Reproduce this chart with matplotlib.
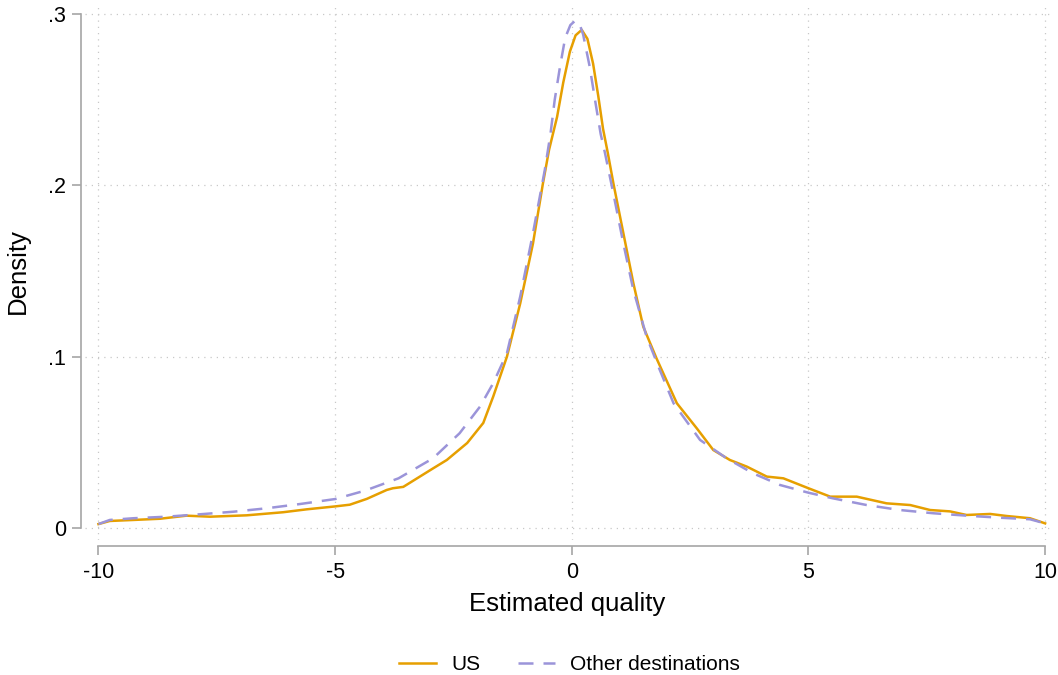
import matplotlib
matplotlib.use("Agg")
import matplotlib.pyplot as plt

plt.rcParams['font.family'] = ['Liberation Sans', 'DejaVu Sans']

# density estimates
us_x = [-10, -9.76, -9.26, -8.70, -8.14, -7.64, -6.87, -6.10, -5.60, -5.0, -4.69,
        -4.33, -3.91, -3.78, -3.56, -2.93, -2.64, -2.21, -1.87, -1.66, -1.37, -1.09, -0.82,
        -0.61, -0.48, -0.31, -0.18, -0.04, 0.08, 0.21, 0.33, 0.45, 0.56, 0.66, 0.76, 0.88, 1.09,
        1.30, 1.51, 1.79, 2.22, 2.64, 2.99, 3.34, 3.70, 4.12, 4.47, 5.0, 5.46, 6.02, 6.65,
        7.15, 7.57, 7.99, 8.34, 8.84, 9.19, 9.68, 10]
us_y = [0.0023, 0.0041, 0.0047, 0.0054, 0.0072, 0.0066, 0.0074, 0.0092, 0.0109, 0.0126, 0.0136,
        0.0170, 0.0222, 0.0232, 0.0240, 0.0348, 0.0397, 0.0496, 0.0613, 0.0767, 0.100, 0.131, 0.166,
        0.201, 0.2207, 0.240, 0.260, 0.278, 0.2875, 0.2907, 0.2855, 0.271, 0.252, 0.233, 0.219, 0.201, 0.172,
        0.143, 0.1175, 0.099, 0.0728, 0.0582, 0.0455, 0.0397, 0.0358, 0.030, 0.029, 0.0232, 0.0183, 0.0183, 0.0144,
        0.0134, 0.0105, 0.0097, 0.0076, 0.0082, 0.0070, 0.0057, 0.0027]

oth_x = [-10, -9.76, -9.26, -8.56, -7.86, -7.15, -6.45, -5.74, -5.0, -4.37, -3.66, -2.93,
         -2.37, -1.94, -1.66, -1.37, -1.09, -0.82, -0.57, -0.45, -0.36, -0.25, -0.14, -0.03, 0.07,
         0.16, 0.24, 0.38, 0.49, 0.61, 0.70, 0.88, 1.09, 1.30, 1.58, 1.86, 2.15, 2.71, 3.27,
         3.83, 4.40, 5.0, 5.52, 6.23, 6.93, 7.64, 8.34, 9.05, 9.68, 10]
oth_y = [0.0023, 0.0047, 0.0057, 0.0066, 0.0080, 0.0095, 0.0115, 0.0140, 0.0169, 0.0218, 0.029, 0.0407,
         0.0553, 0.0708, 0.0845, 0.102, 0.135, 0.172, 0.209, 0.230, 0.250, 0.269, 0.2860, 0.2935, 0.296,
         0.2945, 0.288, 0.269, 0.250, 0.230, 0.219, 0.195, 0.166, 0.139, 0.1117, 0.0922, 0.0728, 0.0514, 0.0407,
         0.0319, 0.0251, 0.0206, 0.0173, 0.0134, 0.0105, 0.0086, 0.0072, 0.0060, 0.0051, 0.0027]

x_ticks = [-10, -5, 0, 5, 10]
y_ticks = [0, 0.1, 0.2, 0.3]
y_tick_labels = ["0", ".1", ".2", ".3"]

fig = plt.figure(figsize=(10.58, 6.75), dpi=100)
ax = fig.add_axes([0.0803, 0.2, 0.912, 0.7956])

gray = "#a6a6a6"
ax.plot(us_x, us_y, color="#E69F00", lw=1.8, label="US", zorder=3)
ax.plot(oth_x, oth_y, color="#9b94d9", lw=1.8, dashes=(6, 4), label="Other destinations", zorder=3)

ax.set_xlim(-10.285, 10.1)
ax.set_ylim(-0.007, 0.3064)
ax.set_xticks(x_ticks)
ax.set_xticklabels([str(t) for t in x_ticks])
ax.set_yticks(y_ticks)
ax.set_yticklabels(y_tick_labels)
ax.grid(True, linestyle=(0, (1, 4)), color="#c8c8c8", lw=0.9)

for side in ["top", "right"]:
    ax.spines[side].set_visible(False)
ax.spines["left"].set_position(("outward", 3))
ax.spines["bottom"].set_position(("outward", 4))
ax.spines["left"].set_bounds(0, 0.3)
ax.spines["bottom"].set_bounds(-10, 10)
for side in ["left", "bottom"]:
    ax.spines[side].set_color(gray)
    ax.spines[side].set_linewidth(1.2)
ax.tick_params(axis="both", length=6.5, width=1.2, color=gray, labelsize=15.5, pad=4)
ax.tick_params(axis="x", pad=5)

ax.set_xlabel("Estimated quality", fontsize=18.5, labelpad=7)
ax.set_ylabel("Density", fontsize=18.5, labelpad=13)

fig.legend(loc="lower center", bbox_to_anchor=(0.538, -0.027), ncol=2, frameon=False,
           fontsize=15, handlelength=1.8, handletextpad=0.7, columnspacing=1.8)

fig.savefig("out.png", dpi=100)
